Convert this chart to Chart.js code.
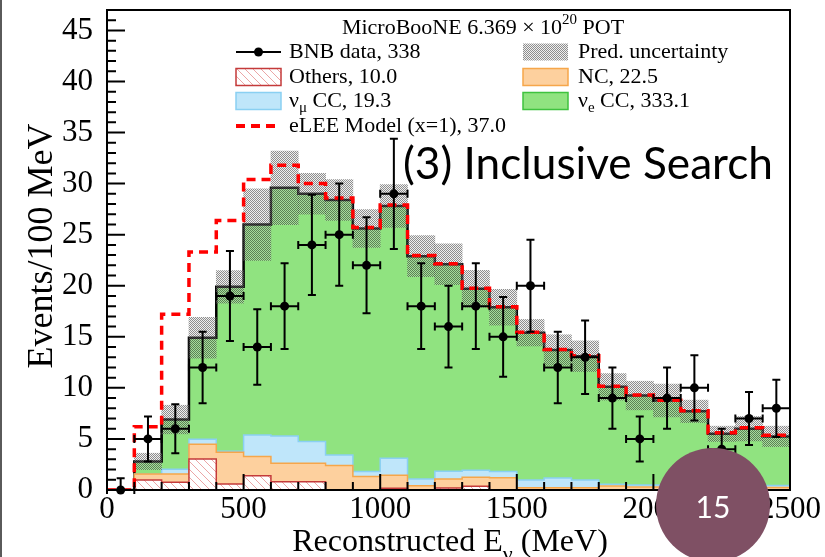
<!DOCTYPE html>
<html>
<head>
<meta charset="utf-8">
<script src="https://cdn.jsdelivr.net/npm/chart.js@4.4.0/dist/chart.umd.min.js"></script>
<style>
  body { margin: 0; background: #fff; }
  #wrap { position: relative; width: 825px; height: 557px; }
</style>
</head>
<body>
<div id="wrap"><canvas id="chart"></canvas></div>
<script>
// 100 MeV bins, reconstructed neutrino energy
const binEdges = [0, 100, 200, 300, 400, 500, 600, 700, 800, 900, 1000, 1100, 1200,
  1300, 1400, 1500, 1600, 1700, 1800, 1900, 2000, 2100, 2200, 2300, 2400, 2500];
const binCenters = [50, 150, 250, 350, 450, 550, 650, 750, 850, 950, 1050, 1150, 1250,
  1350, 1450, 1550, 1650, 1750, 1850, 1950, 2050, 2150, 2250, 2350, 2450];

// stacked prediction (events / bin)
const others = [0, 0.98, 0.75, 3.04, 0.59, 1.4, 0.82, 0.82, 0, 0, 0.16, 0, 0.2, 0.36, 0,
  0, 0, 0, 0, 0, 0, 0, 0, 0, 0];
const nc = [0, 0.59, 0.82, 1.44, 3.1, 1.87, 1.79, 1.79, 2.39, 1.31, 1.28, 0.42, 0.88, 0.88, 1.2,
  0.23, 0.23, 0.23, 0.4, 0.3, 0.3, 0.3, 0.25, 0.25, 0.25];
const numuCC = [0, 0, 0.46, 0.49, 0.1, 2.12, 2.68, 2.13, 1.04, 0.49, 1.66, 0.66, 0.76, 0.69, 0.6,
  0.75, 0.95, 0.75, 0.16, 0.2, 0.2, 0.2, 0.2, 0.2, 0.2];
const nueCC = [0, 1.23, 4.87, 9.93, 16.1, 20.6, 24.3, 24.26, 24.97, 23.8, 24.7, 21.82, 20.26, 17.77, 16.1,
  14.42, 12.52, 12.12, 9.54, 8.75, 8.26, 7.2, 5.05, 5.55, 4.8];
// half width of the prediction uncertainty band
const predErr = [0, 0.8, 1.4, 2.0, 1.6, 3.5, 3.6, 2.0, 2.0, 1.85, 2.1, 2.0, 2.0, 1.8, 1.75,
  1.3, 1.5, 1.5, 1.3, 1.4, 1.6, 1.1, 0.75, 1.2, 1.0];
// eLEE model (x=1) on top of prediction
const eLEE = [0, 6.2, 17.2, 23.3, 26.4, 30.4, 31.8, 30.0, 28.6, 25.7, 27.9, 22.95, 22.15, 19.75, 17.95,
  15.45, 13.75, 13.15, 10.15, 9.3, 8.8, 7.75, 5.6, 6.1, 5.35];
// BNB data
const dataCounts = [0, 5, 6, 12, 19, 14, 18, 24, 25, 22, 29, 18, 16, 18, 15, 20, 12, 13, 9, 5, 9, 10, 4, 7, 8];
const dataErr = [1.15, 2.2, 2.4, 3.5, 4.4, 3.7, 4.2, 4.9, 5, 4.7, 5.4, 4.2, 4, 4.2, 3.9,
  4.5, 3.5, 3.6, 3, 2.2, 3, 3.2, 2, 2.6, 2.8];

const yTicks = [0, 5, 10, 15, 20, 25, 30, 35, 40, 45];

const SERIF = '"Liberation Serif", "Times New Roman", serif';
const canvas = document.getElementById('chart');
const ctx0 = canvas.getContext('2d');

function hatchPattern() {
  const c = document.createElement('canvas');
  c.width = 8; c.height = 8;
  const g = c.getContext('2d');
  g.fillStyle = '#fff';
  g.fillRect(0, 0, 8, 8);
  g.strokeStyle = '#eba6a6';
  g.lineWidth = 1;
  g.beginPath();
  g.moveTo(0, 0); g.lineTo(8, 8);
  g.moveTo(-4, 4); g.lineTo(4, 12);
  g.moveTo(4, -4); g.lineTo(12, 4);
  g.stroke();
  return ctx0.createPattern(c, 'repeat');
}

function ditherPattern() {
  const c = document.createElement('canvas');
  c.width = 4; c.height = 4;
  const g = c.getContext('2d');
  for (let y = 0; y < 4; y++) {
    for (let x = 0; x < 4; x++) {
      g.fillStyle = (x + y) % 2 === 0 ? 'rgba(50,50,50,0.55)' : 'rgba(210,210,210,0.35)';
      g.fillRect(x, y, 1, 1);
    }
  }
  return ctx0.createPattern(c, 'repeat');
}

const othersFill = hatchPattern();
const bandFill = ditherPattern();

function stepData(vals) {
  return binEdges.map(function (x, i) {
    return { x: x, y: vals[Math.min(i, vals.length - 1)] };
  });
}

// text with sub/superscripts: parts = [[text, 'sub'|'sup'|undefined], ...]
function richText(ctx, parts, x, y, size, measureOnly) {
  let cx = x;
  parts.forEach(function (p) {
    const small = p[1] === 'sub' || p[1] === 'sup';
    ctx.font = (small ? Math.round(size * 0.68) : size) + 'px ' + SERIF;
    const dy = p[1] === 'sub' ? size * 0.3 : (p[1] === 'sup' ? -size * 0.38 : 0);
    if (!measureOnly) ctx.fillText(p[0], cx, y + dy);
    cx += ctx.measureText(p[0]).width;
  });
  return cx - x;
}

const rootDecor = {
  id: 'rootDecor',
  afterDatasetDraw(chart, args) {
    if (args.index !== 6) return;
    const ctx = chart.ctx, xs = chart.scales.x, ys = chart.scales.y;
    ctx.save();
    ctx.strokeStyle = '#000';
    ctx.lineWidth = 2;
    dataCounts.forEach(function (n, i) {
      const px = xs.getPixelForValue(binCenters[i]);
      const py = ys.getPixelForValue(n);
      const top = ys.getPixelForValue(n + dataErr[i]);
      const bot = ys.getPixelForValue(Math.max(0, n - dataErr[i]));
      const l = xs.getPixelForValue(binEdges[i]);
      const r = xs.getPixelForValue(binEdges[i + 1]);
      ctx.beginPath();
      ctx.moveTo(px, top); ctx.lineTo(px, bot);
      ctx.moveTo(px - 4, top); ctx.lineTo(px + 4, top);
      if (n > 0) { ctx.moveTo(px - 4, bot); ctx.lineTo(px + 4, bot); }
      ctx.moveTo(l, py); ctx.lineTo(r, py);
      ctx.moveTo(l, py - 4); ctx.lineTo(l, py + 4);
      ctx.moveTo(r, py - 4); ctx.lineTo(r, py + 4);
      ctx.stroke();
    });
    ctx.restore();
  },
  afterDraw(chart) {
    const ctx = chart.ctx, a = chart.chartArea, xs = chart.scales.x, ys = chart.scales.y;
    ctx.save();
    // frame
    ctx.strokeStyle = '#000';
    ctx.lineWidth = 2;
    ctx.strokeRect(a.left, a.top, a.right - a.left, a.bottom - a.top);
    // inside ticks
    ctx.beginPath();
    for (let v = 0; v <= 47; v++) {
      const py = ys.getPixelForValue(v);
      const len = v % 5 === 0 ? 18 : 9;
      ctx.moveTo(a.left, py); ctx.lineTo(a.left + len, py);
    }
    binEdges.forEach(function (e) {
      const px = xs.getPixelForValue(e);
      const len = e % 500 === 0 ? 16 : 8;
      ctx.moveTo(px, a.bottom); ctx.lineTo(px, a.bottom - len);
    });
    ctx.stroke();

    ctx.fillStyle = '#000';
    // axis titles
    ctx.save();
    ctx.translate(43, 246);
    ctx.rotate(-Math.PI / 2);
    ctx.textAlign = 'center';
    ctx.textBaseline = 'middle';
    ctx.font = '36px ' + SERIF;
    ctx.fillText('Events/100 MeV', 0, 0);
    ctx.restore();

    ctx.textBaseline = 'alphabetic';
    ctx.textAlign = 'left';
    const xt = [['Reconstructed E'], ['ν', 'sub'], [' (MeV)']];
    const xw = richText(ctx, xt, 0, 0, 32, true);
    richText(ctx, xt, 450 - xw / 2, 551, 32);

    // legend
    ctx.textBaseline = 'middle';
    const head = [['MicroBooNE 6.369 × 10'], ['20', 'sup'], [' POT']];
    const hw = richText(ctx, head, 0, 0, 22, true);
    richText(ctx, head, 483 - hw / 2, 28, 22);

    const L = 236, R = 523, W = 45, TL = 289, TR = 578;
    const rows = [52, 77, 101, 126];
    // BNB data
    ctx.lineWidth = 2;
    ctx.beginPath(); ctx.moveTo(L, rows[0]); ctx.lineTo(L + W, rows[0]); ctx.stroke();
    ctx.beginPath(); ctx.arc(L + W / 2, rows[0], 4.5, 0, Math.PI * 2); ctx.fill();
    richText(ctx, [['BNB data, 338']], TL, rows[0], 22);
    // boxes
    function box(x, y, fill, stroke) {
      ctx.fillStyle = fill;
      ctx.fillRect(x, y - 8.5, W, 17);
      if (stroke) {
        ctx.strokeStyle = stroke; ctx.lineWidth = 1.5;
        ctx.strokeRect(x, y - 8.5, W, 17);
      }
      ctx.fillStyle = '#000';
    }
    box(R, rows[0], bandFill, null);
    richText(ctx, [['Pred. uncertainty']], TR, rows[0], 22);
    box(L, rows[1], othersFill, '#c43a3a');
    richText(ctx, [['Others, 10.0']], TL, rows[1], 22);
    box(R, rows[1], '#fdd09e', '#f6a64a');
    richText(ctx, [['NC, 22.5']], TR, rows[1], 22);
    box(L, rows[2], '#bfe6fa', '#8ad0f2');
    richText(ctx, [['ν'], ['μ', 'sub'], [' CC, 19.3']], TL, rows[2], 22);
    box(R, rows[2], '#90e380', '#3fc23f');
    richText(ctx, [['ν'], ['e', 'sub'], [' CC, 333.1']], TR, rows[2], 22);
    ctx.strokeStyle = '#ff0000';
    ctx.lineWidth = 4;
    ctx.setLineDash([9, 6]);
    ctx.beginPath(); ctx.moveTo(L, rows[3]); ctx.lineTo(L + W, rows[3]); ctx.stroke();
    ctx.setLineDash([]);
    richText(ctx, [['eLEE Model (x=1), 37.0']], TL, rows[3], 22);

    // slide annotation
    ctx.textBaseline = 'alphabetic';
    ctx.font = '40px Lato';
    const sw = ctx.measureText('(3) Inclusive Search').width;
    ctx.font = (40 * 370 / sw).toFixed(1) + 'px Lato';
    ctx.fillText('(3) Inclusive Search', 403, 179);

    // slide number
    ctx.fillStyle = '#7f5064';
    ctx.beginPath(); ctx.arc(713, 505, 57, 0, Math.PI * 2); ctx.fill();
    ctx.fillStyle = '#fff';
    ctx.textAlign = 'center';
    ctx.textBaseline = 'middle';
    ctx.font = '30px Lato';
    ctx.fillText('15', 713, 508);

    ctx.fillStyle = '#5a5a5a';
    ctx.fillRect(0, 0, 2, 557);
    ctx.restore();
  }
};

new Chart(ctx0, {
  type: 'line',
  data: {
    datasets: [
      { label: 'Others', data: stepData(others), stepped: true, fill: 'origin',
        backgroundColor: othersFill, borderColor: '#c43a3a', borderWidth: 1.5, pointRadius: 0, order: 4 },
      { label: 'NC', data: stepData(nc), stepped: true, fill: '-1',
        backgroundColor: '#fdd09e', borderColor: '#f6a64a', borderWidth: 1.5, pointRadius: 0, order: 4 },
      { label: 'numu CC', data: stepData(numuCC), stepped: true, fill: '-1',
        backgroundColor: '#bfe6fa', borderColor: '#8ad0f2', borderWidth: 1.5, pointRadius: 0, order: 4 },
      { label: 'nue CC', data: stepData(nueCC), stepped: true, fill: '-1',
        backgroundColor: '#90e380', borderColor: '#000', borderWidth: 2.5, pointRadius: 0, order: 4 },
      { type: 'bar', label: 'Pred. uncertainty', stack: 'unc', order: 3,
        data: binCenters.map(function (x, i) {
          const tot = others[i] + nc[i] + numuCC[i] + nueCC[i];
          return { x: x, y: [tot - predErr[i], tot + predErr[i]] };
        }),
        backgroundColor: bandFill, borderWidth: 0, barPercentage: 1, categoryPercentage: 1, grouped: false },
      { label: 'eLEE', data: stepData(eLEE), stepped: true, fill: false, stack: 'lee',
        borderColor: '#ff0000', borderWidth: 3.5, borderDash: [9, 6], pointRadius: 0, order: 2 },
      { label: 'BNB data', stack: 'obs', showLine: false, clip: false, order: 1,
        data: binCenters.map(function (x, i) { return { x: x, y: dataCounts[i] }; }),
        pointRadius: 4.5, pointBackgroundColor: '#000', pointBorderColor: '#000', borderWidth: 0 }
    ]
  },
  options: {
    responsive: true,
    maintainAspectRatio: false,
    animation: false,
    events: [],
    layout: { padding: { top: 10, right: 35, left: 0, bottom: 0 } },
    plugins: { legend: { display: false }, tooltip: { enabled: false } },
    scales: {
      x: {
        type: 'linear', min: 0, max: 2500, offset: false,
        grid: { display: false }, border: { display: false },
        ticks: { stepSize: 500, autoSkip: false, maxRotation: 0, padding: -7, color: '#000',
          font: { family: SERIF, size: 31 },
          callback: function (v) { return String(v); } },
        afterFit: function (s) { s.height = 67; s.paddingLeft = 0; s.paddingRight = 0; }
      },
      y: {
        type: 'linear', stacked: true, min: 0, max: 47,
        grid: { display: false }, border: { display: false },
        ticks: { stepSize: 5, includeBounds: false, autoSkip: false, padding: 6, color: '#000',
          font: { family: SERIF, size: 31 },
          callback: function (v) { return yTicks.indexOf(v) >= 0 ? String(v) : null; } },
        afterFit: function (s) { s.width = 107; s.paddingTop = 0; s.paddingBottom = 0; }
      }
    }
  },
  plugins: [rootDecor]
});
</script>
</body>
</html>
